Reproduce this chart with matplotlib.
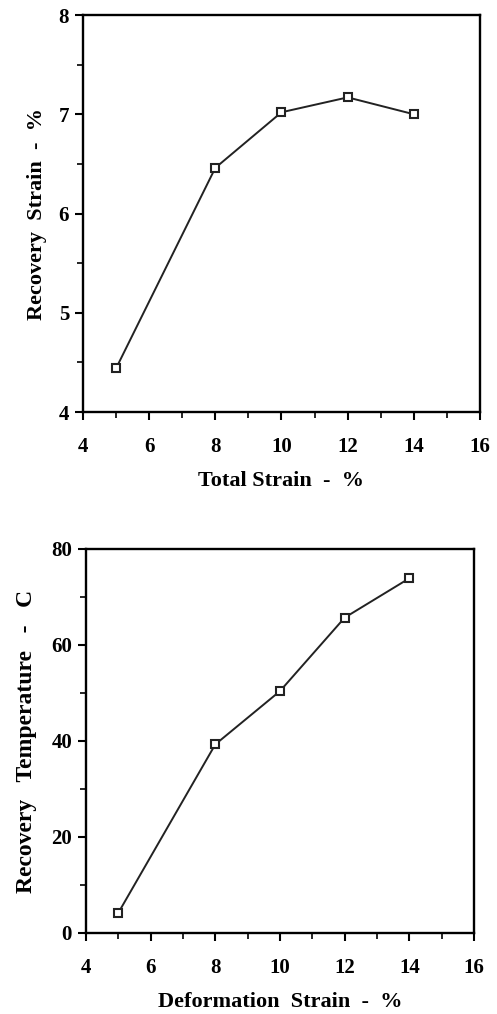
import matplotlib
matplotlib.use("Agg")
import matplotlib.pyplot as plt
from matplotlib.ticker import MultipleLocator

total_strain = [5, 8, 10, 12, 14]
recovery_strain = [4.44, 6.46, 7.02, 7.17, 7.00]

deform_strain = [5, 8, 10, 12, 14]
recovery_temp = [4.2, 39.3, 50.4, 65.7, 73.9]

x_ticks = [4, 6, 8, 10, 12, 14, 16]
top_yticks = [4, 5, 6, 7, 8]
bot_yticks = [0, 20, 40, 60, 80]

plt.rcParams['font.family'] = ['Liberation Serif', 'DejaVu Serif']
plt.rcParams['font.weight'] = 'bold'

W, H = 497, 1014
fig = plt.figure(figsize=(W / 100, H / 100), dpi=100)

def px_axes(left, top, right, bottom):
    return fig.add_axes([left / W, 1 - bottom / H, (right - left) / W, (bottom - top) / H])

def style(ax, ymin):
    for s in ax.spines.values():
        s.set_linewidth(1.7)
    ax.set_xlim(4, 16)
    ax.set_xticks(x_ticks)
    ax.xaxis.set_minor_locator(MultipleLocator(1))
    ax.yaxis.set_minor_locator(MultipleLocator(ymin))
    ax.tick_params(which='major', direction='out', length=6, width=1.5, labelsize=15)
    ax.tick_params(which='minor', direction='out', length=4, width=1.2)
    ax.tick_params(axis='x', which='major', pad=12)
    ax.tick_params(axis='y', which='major', pad=4)

ax1 = px_axes(83, 15, 480, 412)
ax1.plot(total_strain, recovery_strain, color='#222222', lw=1.4, marker='s',
         markersize=6, markerfacecolor='white', markeredgecolor='#222222', markeredgewidth=1.5)
ax1.set_ylim(4, 8)
ax1.set_yticks(top_yticks)
style(ax1, 0.5)
ax1.set_xlabel('Total Strain  -  %', fontsize=16, fontweight='bold', labelpad=10)
ax1.set_ylabel('Recovery  Strain  -  %', fontsize=16, fontweight='bold', labelpad=8)

ax2 = px_axes(86, 549, 474, 933)
ax2.plot(deform_strain, recovery_temp, color='#222222', lw=1.4, marker='s',
         markersize=6, markerfacecolor='white', markeredgecolor='#222222', markeredgewidth=1.5)
ax2.set_ylim(0, 80)
ax2.set_yticks(bot_yticks)
style(ax2, 10)
ax2.set_xlabel('Deformation  Strain  -  %', fontsize=16, fontweight='bold', labelpad=10)
ax2.set_ylabel('Recovery   Temperature   -   C', fontsize=17, fontweight='bold', labelpad=10)

fig.savefig('out.png', dpi=100)
